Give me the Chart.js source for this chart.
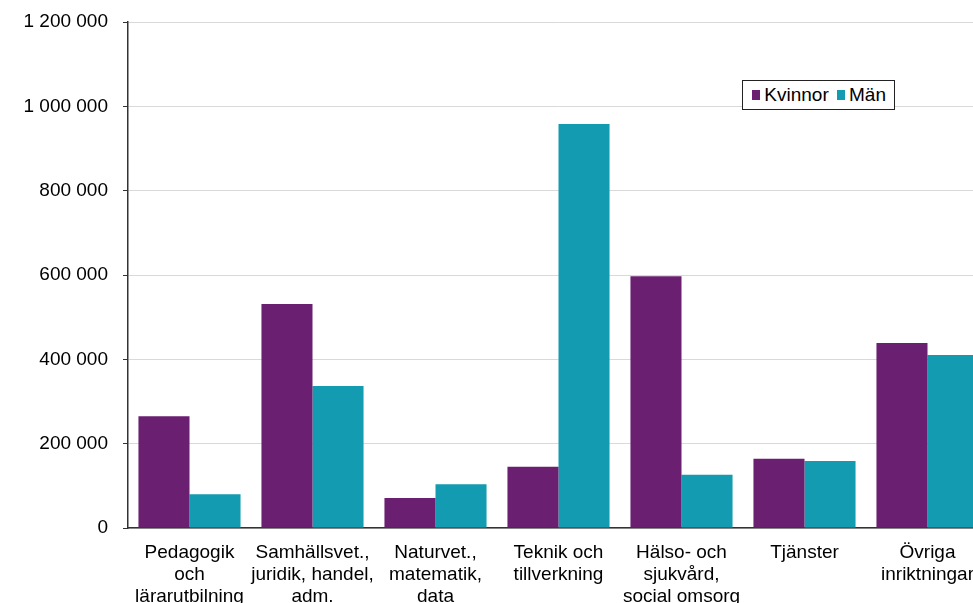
<!DOCTYPE html>
<html>
<head>
<meta charset="utf-8">
<script src="https://cdn.jsdelivr.net/npm/chart.js@4"></script>
<style>
  html, body { margin: 0; padding: 0; background: #fff; overflow: hidden; }
  #wrap { position: relative; width: 989px; height: 603px; }
  #legend { position: absolute; left: 742px; top: 80px; width: 153px; height: 30px; border: 1px solid #222; background: #fff;
            font-family: "Liberation Sans", Arial, sans-serif; font-size: 19px; color: #000; display: flex; align-items: center; box-sizing: border-box; padding-left: 9px; }
  #legend span.sw { display: inline-block; width: 10px; height: 10px; margin-right: 4px; }
  #legend span.lb { margin-right: 8px; }
</style>
</head>
<body>
<div id="wrap">
  <canvas id="c" width="989" height="603"></canvas>
  <div id="legend"></div>
</div>
<script>
const categories = [
  ['Pedagogik', 'och', 'lärarutbilning'],
  ['Samhällsvet.,', 'juridik, handel,', 'adm.'],
  ['Naturvet.,', 'matematik,', 'data'],
  ['Teknik och', 'tillverkning'],
  ['Hälso- och', 'sjukvård,', 'social omsorg'],
  ['Tjänster'],
  ['Övriga', 'inriktningar']
];
const seriesNames = ['Kvinnor', 'Män'];
const kvinnor = [265000, 531000, 71000, 145000, 597000, 164000, 439000];
const man = [80000, 337000, 104000, 958000, 126000, 159000, 410000];
const seriesColors = ['#6a1f70', '#139bb1'];

const fontFamily = '"Liberation Sans", Arial, sans-serif';

function fmt(v) {
  return String(v).replace(/\B(?=(\d{3})+(?!\d))/g, ' ');
}

const legendEl = document.getElementById('legend');
seriesNames.forEach((n, i) => {
  const sw = document.createElement('span'); sw.className = 'sw'; sw.style.background = seriesColors[i];
  const lb = document.createElement('span'); lb.className = 'lb'; lb.textContent = n;
  legendEl.appendChild(sw); legendEl.appendChild(lb);
});

new Chart(document.getElementById('c'), {
  type: 'bar',
  data: {
    labels: categories,
    datasets: [
      { label: seriesNames[0], data: kvinnor, backgroundColor: seriesColors[0] },
      { label: seriesNames[1], data: man, backgroundColor: seriesColors[1] }
    ]
  },
  options: {
    responsive: false,
    animation: false,
    devicePixelRatio: 1,
    layout: { padding: { top: 22, left: 0, right: 0, bottom: 0 } },
    plugins: { legend: { display: false }, tooltip: { enabled: false } },
    datasets: { bar: { categoryPercentage: 0.83, barPercentage: 1.0 } },
    scales: {
      x: {
        grid: { display: false, drawTicks: false },
        border: { display: true, color: '#333', width: 1.5 },
        ticks: {
          color: '#000', maxRotation: 0, minRotation: 0, autoSkip: false, padding: 14,
          font: { family: fontFamily, size: 19, lineHeight: '22px' }
        },
        afterFit: s => { s.height = 75; s.paddingLeft = 0; s.paddingRight = 0; }
      },
      y: {
        min: 0, max: 1200000,
        grid: { color: '#d9d9d9', lineWidth: 1, tickColor: '#333', tickLength: 5, drawTicks: true },
        border: { display: true, color: '#333', width: 1.5 },
        ticks: {
          stepSize: 200000, color: '#000', padding: 15,
          font: { family: fontFamily, size: 19 },
          callback: v => fmt(v)
        },
        afterFit: s => { s.width = 128; s.paddingTop = 0; s.paddingBottom = 0; }
      }
    }
  }
});
</script>
</body>
</html>
